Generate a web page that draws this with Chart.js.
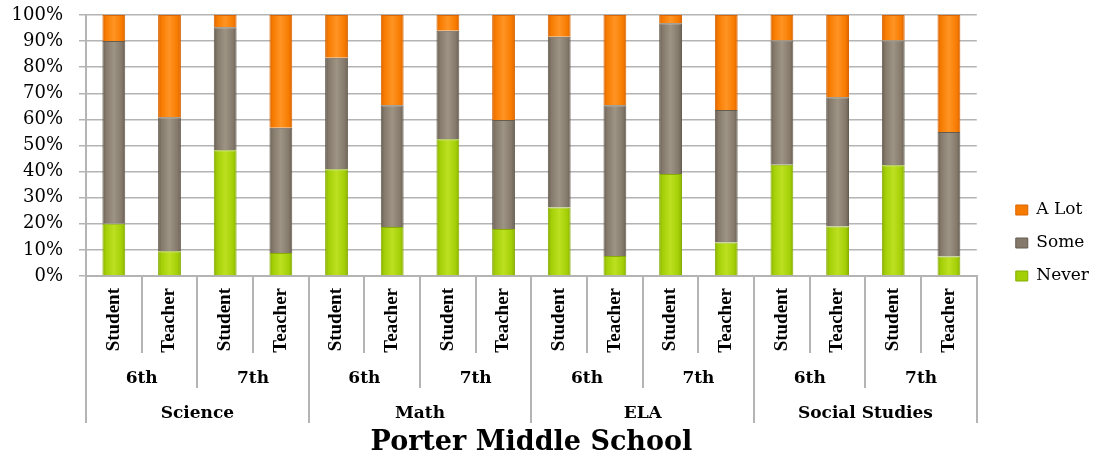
<!DOCTYPE html>
<html>
<head>
<meta charset="utf-8">
<script src="https://cdn.jsdelivr.net/npm/chart.js@4.4.0/dist/chart.umd.min.js"></script>
<style>
  html, body { margin: 0; padding: 0; background: #fff; }
  #wrap { width: 1099px; height: 460px; }
</style>
</head>
<body>
<div id="wrap"><canvas id="myChart"></canvas></div>
<script>
// categories, three levels
var respondents = ['Student','Teacher','Student','Teacher','Student','Teacher','Student','Teacher',
                   'Student','Teacher','Student','Teacher','Student','Teacher','Student','Teacher']
var grades = ['6th','7th','6th','7th','6th','7th','6th','7th']
var subjects = ['Science','Math','ELA','Social Studies']

// percent of answers
var never = [20.0, 9.5, 48.2, 8.8, 40.9, 18.8, 52.4, 18.0, 26.2, 7.7, 39.1, 12.8, 42.6, 19.0, 42.4, 7.5]
var some  = [70.0, 51.3, 47.1, 48.0, 42.7, 46.6, 41.6, 41.8, 65.5, 57.7, 57.7, 50.8, 47.6, 49.5, 47.8, 47.7]
var aLot  = [10.0, 39.2, 4.7, 43.2, 16.4, 34.6, 6.0, 40.2, 8.3, 34.6, 3.2, 36.4, 9.8, 31.5, 9.8, 44.8]

var yTicks = [0, 10, 20, 30, 40, 50, 60, 70, 80, 90, 100]

var barPct = 0.41
var lineCol = '#b4b4b4'
var flat = ['#a3cf06', '#84796b', '#f77b00']
var edge = ['#86ad00', '#655c50', '#d96400']
var light = ['#bde020', '#9e9484', '#ff9424']

function barFill(i){
  return function(c){
    var chart = c.chart
    var sx = chart.scales ? chart.scales.x : null
    if (!sx || c.dataIndex === undefined || !isFinite(sx.width) || sx.width <= 0) return flat[i]
    var x = sx.getPixelForValue(c.dataIndex)
    var hw = sx.width / respondents.length * barPct / 2
    var g = chart.ctx.createLinearGradient(x - hw, 0, x + hw, 0)
    g.addColorStop(0, edge[i])
    g.addColorStop(0.15, flat[i])
    g.addColorStop(0.5, light[i])
    g.addColorStop(0.85, flat[i])
    g.addColorStop(1, edge[i])
    return g
  }
}

function start(){
  var ctx = document.getElementById('myChart').getContext('2d')
  var myChart = new Chart(ctx, {
    type: 'bar',
    data: {
      labels: respondents,
      datasets: [
        { label: 'Never', data: never, backgroundColor: barFill(0), borderColor: edge[0], borderWidth: 1 },
        { label: 'Some', data: some, backgroundColor: barFill(1), borderColor: edge[1], borderWidth: 1 },
        { label: 'A Lot', data: aLot, backgroundColor: barFill(2), borderColor: edge[2], borderWidth: 1 }
      ]
    },
    options: {
      responsive: true,
      maintainAspectRatio: false,
      animation: false,
      datasets: { bar: { barPercentage: barPct, categoryPercentage: 1 } },
      layout: { padding: { top: 3, left: 0, right: 0, bottom: 0 } },
      plugins: {
        tooltip: { enabled: false },
        title: { display: false },
        legend: {
          position: 'right',
          reverse: true,
          // empty title only to push the items a bit down
          title: { display: true, text: ' ', padding: 5.5, font: { size: 10 } },
          labels: {
            boxWidth: 12,
            boxHeight: 10,
            padding: 16,
            color: '#000',
            font: { family: 'DejaVu Serif', size: 17 },
            generateLabels: function(chart){
              var items = Chart.defaults.plugins.legend.labels.generateLabels(chart)
              items.forEach(function(it){
                it.fillStyle = flat[it.datasetIndex]
                it.strokeStyle = edge[it.datasetIndex]
                it.lineWidth = 1
              })
              return items
            }
          }
        }
      },
      scales: {
        y: {
          stacked: true,
          min: 0,
          max: 100,
          afterBuildTicks: function(s){ s.ticks = yTicks.map(function(v){ return { value: v } }) },
          ticks: {
            padding: 16,
            color: '#000',
            font: { family: 'DejaVu Serif', size: 18 },
            callback: function(v){ return v + '%' }
          },
          grid: { color: lineCol, lineWidth: 1.5, tickLength: 7 },
          border: { color: lineCol, width: 2 },
          afterFit: function(s){ s.width = 86; s.paddingTop = 15; s.paddingBottom = 0 }
        },
        yR: {
          type: 'linear',
          position: 'right',
          grid: { display: false },
          border: { display: false },
          ticks: { display: false },
          afterFit: function(s){ s.width = 23 }
        },
        x: {
          type: 'category',
          stacked: true,
          offset: true,
          weight: 0,
          grid: { offset: true, drawOnChartArea: false, tickLength: 77, color: lineCol, lineWidth: 2 },
          border: { color: lineCol, width: 2 },
          ticks: {
            autoSkip: false, maxRotation: 90, minRotation: 90, padding: -65, color: '#000',
            font: { family: 'Liberation Serif', weight: 'bold', size: 19 }
          },
          afterFit: function(s){ s.height = 77 }
        },
        x2: {
          type: 'category',
          position: 'bottom',
          labels: grades,
          offset: true,
          weight: 1,
          grid: { offset: true, drawOnChartArea: false, tickLength: 35, color: lineCol, lineWidth: 2 },
          border: { display: false },
          ticks: {
            autoSkip: false, maxRotation: 0, padding: -20, color: '#000',
            font: { family: 'DejaVu Serif', weight: 'bold', size: 17 }
          },
          afterFit: function(s){ s.height = 35 }
        },
        x3: {
          type: 'category',
          position: 'bottom',
          labels: subjects,
          offset: true,
          weight: 2,
          grid: { offset: true, drawOnChartArea: false, tickLength: 35, color: lineCol, lineWidth: 2 },
          border: { display: false },
          ticks: {
            autoSkip: false, maxRotation: 0, padding: -20, color: '#000',
            font: { family: 'DejaVu Serif', weight: 'bold', size: 17 }
          },
          title: {
            display: true,
            text: 'Porter Middle School',
            color: '#000',
            padding: { top: 0, bottom: 1 },
            font: { family: 'DejaVu Serif', weight: 'bold', size: 27 }
          },
          afterFit: function(s){ s.height = 72 }
        }
      }
    }
  })
}

start()
</script>
</body>
</html>
